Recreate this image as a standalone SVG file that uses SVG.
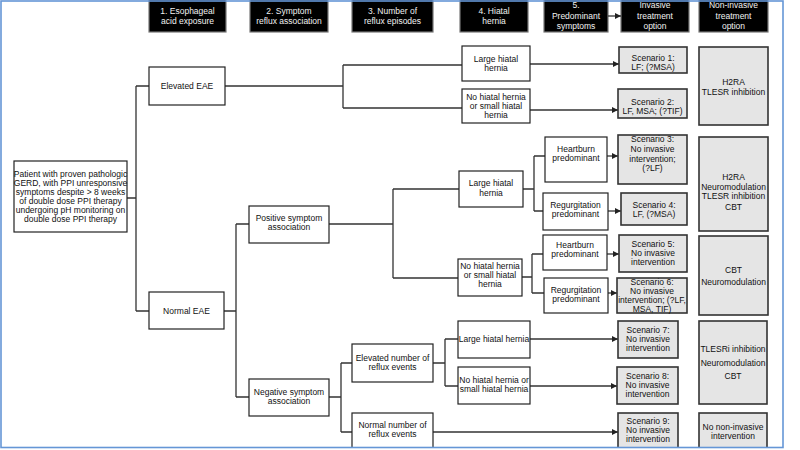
<svg xmlns="http://www.w3.org/2000/svg" width="800" height="450" viewBox="0 0 800 450">
<style>
.box{fill:#fff;stroke:#222;stroke-width:1.2}
.scn{fill:#e5e5e5;stroke:#333;stroke-width:1.6}
.hdr{fill:#000;stroke:#777;stroke-width:1.2}
.t{font-family:"Liberation Sans",Arial,sans-serif;font-size:8.5px;fill:#111;text-anchor:middle}
.ht{font-family:"Liberation Sans",Arial,sans-serif;font-size:8.5px;fill:#f2f2f2;text-anchor:middle}
.ln{fill:none;stroke:#333;stroke-width:1.3}
.ar{fill:none;stroke:#333;stroke-width:1.3;marker-end:url(#ah)}
</style>
<defs>
<marker id="ah" markerUnits="userSpaceOnUse" markerWidth="6" markerHeight="6" refX="6" refY="3" orient="auto">
<path d="M0,0 L6,3 L0,6 z" fill="#222"/>
</marker>
</defs>
<rect x="0" y="0" width="800" height="450" fill="#fff"/>

<g id="headers">
<g id="h1"><rect class="hdr" x="149" y="-5" width="77" height="37"/><text class="ht" x="187.5" y="14">1. Esophageal</text><text class="ht" x="187.5" y="24">acid exposure</text></g>
<g id="h2"><rect class="hdr" x="250" y="-5" width="78" height="37"/><text class="ht" x="289" y="14">2. Symptom</text><text class="ht" x="289" y="24">reflux association</text></g>
<g id="h3"><rect class="hdr" x="352" y="-5" width="81" height="37"/><text class="ht" x="392.5" y="14">3. Number of</text><text class="ht" x="392.5" y="24">reflux episodes</text></g>
<g id="h4"><rect class="hdr" x="460" y="-5" width="68" height="37"/><text class="ht" x="494" y="14">4. Hiatal</text><text class="ht" x="494" y="24">hernia</text></g>
<g id="h5"><rect class="hdr" x="544" y="-5" width="64" height="37"/><text class="ht" x="576" y="8">5.</text><text class="ht" x="576" y="19">Predominant</text><text class="ht" x="576" y="29">symptoms</text></g>
<g id="h6"><rect class="hdr" x="621" y="-5" width="68" height="37"/><text class="ht" x="655" y="8">Invasive</text><text class="ht" x="655" y="19">treatment</text><text class="ht" x="655" y="29">option</text></g>
<g id="h7"><rect class="hdr" x="699" y="-5" width="69" height="37"/><text class="ht" x="733.5" y="8">Non-invasive</text><text class="ht" x="733.5" y="19">treatment</text><text class="ht" x="733.5" y="29">option</text></g>
</g>

<g id="connectors">
<path class="ar" d="M608 16 H621"/>
<path class="ln" d="M127 198 H136 M136 86 V311 M136 86 H149 M136 311 H149"/>
<path class="ln" d="M225 86 H343 M343 65 V108 M343 65 H462 M343 108 H462"/>
<path class="ar" d="M530 64 H619"/>
<path class="ar" d="M530 110 H618"/>
<path class="ln" d="M224 311 H236 M236 224 V397 M236 224 H249 M236 397 H249"/>
<path class="ln" d="M329 224 H393 M393 189 V278 M393 189 H459 M393 278 H458"/>
<path class="ln" d="M523 189 H534 M534 156 V211 M534 156 H545 M534 211 H543"/>
<path class="ar" d="M607 156 H618"/>
<path class="ar" d="M608 211 H621"/>
<path class="ln" d="M522 277 H532 M532 254 V293 M532 254 H543 M532 293 H544"/>
<path class="ar" d="M607 254 H619"/>
<path class="ar" d="M608 293 H617"/>
<path class="ln" d="M329 397 H341 M341 363 V432 M341 363 H352 M341 432 H352"/>
<path class="ln" d="M433 363 H445 M445 339 V386 M445 339 H458 M445 386 H458"/>
<path class="ar" d="M530 339 H618"/>
<path class="ar" d="M530 386 H617"/>
<path class="ar" d="M433 432 H618"/>
</g>

<g id="patient"><rect class="box" x="14" y="161" width="113" height="71"/>
<text class="t" x="70.5" y="177">Patient with proven pathologic</text>
<text class="t" x="70.5" y="186">GERD, with PPI unresponsive</text>
<text class="t" x="70.5" y="195">symptoms despite &gt; 8 weeks</text>
<text class="t" x="70.5" y="204">of double dose PPI therapy</text>
<text class="t" x="70.5" y="213">undergoing pH monitoring on</text>
<text class="t" x="70.5" y="222">double dose PPI therapy</text></g>

<g id="eae-elevated"><rect class="box" x="149" y="67" width="76" height="38"/><text class="t" x="187" y="89">Elevated EAE</text></g>
<g id="eae-normal"><rect class="box" x="149" y="292" width="75" height="37"/><text class="t" x="186.5" y="314">Normal EAE</text></g>
<g id="pos-sa"><rect class="box" x="249" y="206" width="80" height="37"/><text class="t" x="289" y="221">Positive symptom</text><text class="t" x="289" y="230">association</text></g>
<g id="neg-sa"><rect class="box" x="249" y="379" width="80" height="37"/><text class="t" x="289" y="395">Negative symptom</text><text class="t" x="289" y="404">association</text></g>

<g id="hh1"><rect class="box" x="462" y="46" width="68" height="35"/><text class="t" x="496" y="62">Large hiatal</text><text class="t" x="496" y="71">hernia</text></g>
<g id="nh1"><rect class="box" x="462" y="89" width="68" height="34"/><text class="t" x="496" y="100">No hiatal hernia</text><text class="t" x="496" y="109">or small hiatal</text><text class="t" x="496" y="118">hernia</text></g>
<g id="sc1"><rect class="scn" x="619" y="47" width="68" height="26"/><text class="t" x="653" y="61">Scenario 1:</text><text class="t" x="653" y="70">LF; (?MSA)</text></g>
<g id="sc2"><rect class="scn" x="618" y="89" width="69" height="29"/><text class="t" x="652.5" y="105">Scenario 2:</text><text class="t" x="652.5" y="114">LF, MSA; (?TIF)</text></g>
<g id="ni1"><rect class="scn" x="699" y="47" width="69" height="78"/><text class="t" x="733.5" y="85">H2RA</text><text class="t" x="733.5" y="95">TLESR inhibition</text></g>

<g id="hh2"><rect class="box" x="459" y="171" width="64" height="36"/><text class="t" x="491" y="186">Large hiatal</text><text class="t" x="491" y="196">hernia</text></g>
<g id="nh2"><rect class="box" x="458" y="259" width="64" height="37"/><text class="t" x="490" y="269">No hiatal hernia</text><text class="t" x="490" y="278">or small hiatal</text><text class="t" x="490" y="287">hernia</text></g>
<g id="hb1"><rect class="box" x="545" y="137" width="62" height="45"/><text class="t" x="576" y="152">Heartburn</text><text class="t" x="576" y="161">predominant</text></g>
<g id="rg1"><rect class="box" x="543" y="193" width="65" height="37"/><text class="t" x="575.5" y="208">Regurgitation</text><text class="t" x="575.5" y="217">predominant</text></g>
<g id="sc3"><rect class="scn" x="618" y="135" width="69" height="49"/><text class="t" x="652.5" y="142">Scenario 3:</text><text class="t" x="652.5" y="152">No invasive</text><text class="t" x="652.5" y="162">intervention;</text><text class="t" x="652.5" y="171">(?LF)</text></g>
<g id="sc4"><rect class="scn" x="621" y="193" width="66" height="32"/><text class="t" x="654" y="208">Scenario 4:</text><text class="t" x="654" y="217">LF, (?MSA)</text></g>
<g id="ni2"><rect class="scn" x="699" y="137" width="69" height="94"/><text class="t" x="733.5" y="180">H2RA</text><text class="t" x="733.5" y="190">Neuromodulation</text><text class="t" x="733.5" y="199">TLESR inhibition</text><text class="t" x="733.5" y="210">CBT</text></g>

<g id="hb2"><rect class="box" x="543" y="235" width="64" height="35"/><text class="t" x="575" y="248">Heartburn</text><text class="t" x="575" y="257">predominant</text></g>
<g id="rg2"><rect class="box" x="544" y="278" width="64" height="35"/><text class="t" x="576" y="293">Regurgitation</text><text class="t" x="576" y="302">predominant</text></g>
<g id="sc5"><rect class="scn" x="619" y="235" width="68" height="37"/><text class="t" x="653" y="247">Scenario 5:</text><text class="t" x="653" y="256">No invasive</text><text class="t" x="653" y="265">intervention</text></g>
<g id="sc6"><rect class="scn" x="617" y="278" width="70" height="35"/><text class="t" x="652" y="285">Scenario 6:</text><text class="t" x="652" y="294">No invasive</text><text class="t" x="652" y="303">intervention; (?LF,</text><text class="t" x="652" y="312">MSA, TIF)</text></g>
<g id="ni3"><rect class="scn" x="699" y="236" width="69" height="79"/><text class="t" x="733.5" y="273">CBT</text><text class="t" x="733.5" y="285">Neuromodulation</text></g>

<g id="eln"><rect class="box" x="352" y="344" width="81" height="38"/><text class="t" x="392.5" y="361">Elevated number of</text><text class="t" x="392.5" y="370">reflux events</text></g>
<g id="nln"><rect class="box" x="352" y="413" width="81" height="40"/><text class="t" x="392.5" y="428">Normal number of</text><text class="t" x="392.5" y="437">reflux events</text></g>
<g id="hh3"><rect class="box" x="458" y="321" width="72" height="37"/><text class="t" x="494" y="342">Large hiatal hernia</text></g>
<g id="nh3"><rect class="box" x="458" y="367" width="72" height="37"/><text class="t" x="494" y="383">No hiatal hernia or</text><text class="t" x="494" y="392">small hiatal hernia</text></g>
<g id="sc7"><rect class="scn" x="618" y="321" width="60" height="37"/><text class="t" x="648" y="333">Scenario 7:</text><text class="t" x="648" y="342">No invasive</text><text class="t" x="648" y="351">intervention</text></g>
<g id="sc8"><rect class="scn" x="617" y="367" width="61" height="37"/><text class="t" x="647.5" y="379">Scenario 8:</text><text class="t" x="647.5" y="388">No invasive</text><text class="t" x="647.5" y="397">intervention</text></g>
<g id="sc9"><rect class="scn" x="618" y="413" width="60" height="40"/><text class="t" x="648" y="424">Scenario 9:</text><text class="t" x="648" y="433">No invasive</text><text class="t" x="648" y="442">intervention</text></g>
<g id="ni4"><rect class="scn" x="699" y="321" width="68" height="83"/><text class="t" x="733" y="352">TLESRi inhibition</text><text class="t" x="733" y="366">Neuromodulation</text><text class="t" x="733" y="379">CBT</text></g>
<g id="ni5"><rect class="scn" x="699" y="413" width="68" height="40"/><text class="t" x="733" y="430">No non-invasive</text><text class="t" x="733" y="439">intervention</text></g>

<rect x="0" y="448" width="800" height="2" fill="#fff"/>
<rect x="784" y="0" width="16" height="450" fill="#fff"/>
<rect x="1" y="1" width="782" height="446.5" fill="none" stroke="#6596d6" stroke-width="1.6"/>
</svg>
